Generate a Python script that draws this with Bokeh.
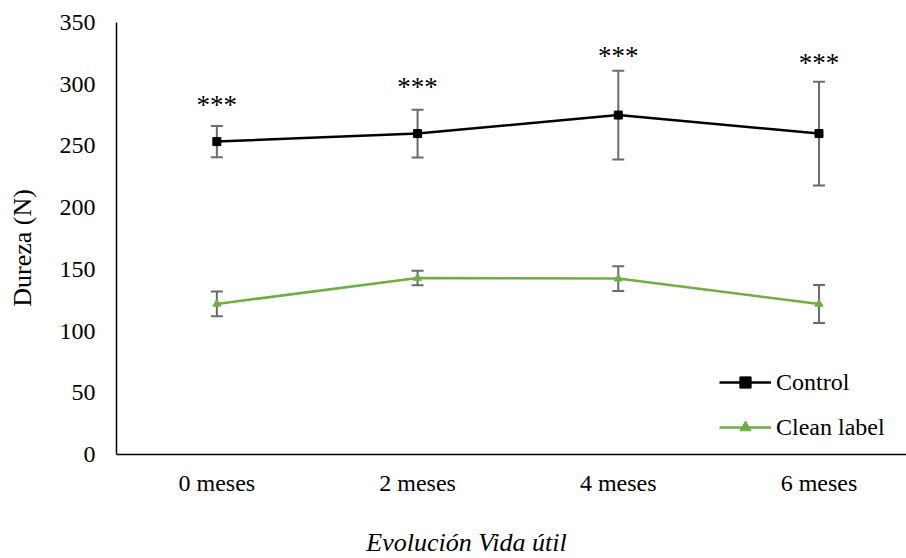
import math
from bokeh.plotting import figure
from bokeh.layouts import column, row
from bokeh.models import (ColumnDataSource, Whisker, TeeHead, FixedTicker, Range1d,
                          Legend, LegendItem)
from bokeh.core.properties import value
from bokeh.embed import file_html
from bokeh.resources import INLINE

categories = ["0 meses", "2 meses", "4 meses", "6 meses"]
control = [253.5, 260.0, 275.0, 260.0]
control_sd = [12.7, 19.4, 36.0, 42.0]
clean = [122.0, 143.0, 142.5, 122.0]
clean_sd = [10.0, 5.8, 10.1, 15.4]
sig_labels = ["***", "***", "***", "***"]
sig_y = [283.5, 298, 323, 317.5]
y_ticks = [0, 50, 100, 150, 200, 250, 300, 350]
x_title = "Evolución Vida útil"
y_title = "Dureza (N)"

FONT = "Liberation Serif"
x = list(range(len(categories)))

MAIN_H = 502
YW = 45

p = figure(width=906 - YW, height=MAIN_H, x_range=Range1d(-0.5, 3.436), y_range=Range1d(0, 350),
           output_backend="svg", toolbar_location=None,
           min_border_left=116 - YW, min_border_right=0, min_border_top=22,
           min_border_bottom=MAIN_H - 454)

def whisk(vals, sds):
    src = ColumnDataSource(dict(x=x, upper=[v + s for v, s in zip(vals, sds)],
                                lower=[v - s for v, s in zip(vals, sds)]))
    col = "#6b6b6b"
    w = Whisker(base="x", upper="upper", lower="lower", source=src, level="underlay",
                line_color=col, line_width=2,
                upper_head=TeeHead(size=12, line_color=col, line_width=2),
                lower_head=TeeHead(size=12, line_color=col, line_width=2))
    p.add_layout(w)

whisk(control, control_sd)
whisk(clean, clean_sd)

GREEN = "#70AD47"
l1 = p.line(x, control, line_color="black", line_width=2.5)
s1 = p.scatter(x, control, marker="square", size=8, fill_color="black", line_color="black")
l2 = p.line(x, clean, line_color=GREEN, line_width=2.5)
s2 = p.scatter(x, clean, marker="triangle", size=8, fill_color=GREEN, line_color=GREEN)

p.text(x=x, y=sig_y, text=sig_labels, text_align="center", text_baseline="middle",
       text_font=value(FONT), text_font_size="27px", text_color="black")

legend = Legend(items=[LegendItem(label="Control", renderers=[l1, s1]),
                       LegendItem(label="Clean label", renderers=[l2, s2])],
                location=(603, 13), glyph_width=52, glyph_height=28, label_height=28,
                spacing=17, padding=0, margin=0, border_line_color=None,
                background_fill_alpha=0, label_text_font=FONT, label_text_font_size="24px",
                label_standoff=5, label_text_color="black")
p.add_layout(legend)

p.xaxis.ticker = FixedTicker(ticks=x)
p.xaxis.major_label_overrides = {i: c for i, c in enumerate(categories)}
p.yaxis.ticker = FixedTicker(ticks=y_ticks)

for ax in (p.xaxis, p.yaxis):
    ax.axis_line_color = "black"
    ax.axis_line_width = 1.5
    ax.major_tick_line_color = None
    ax.minor_tick_line_color = None
    ax.major_tick_out = 0
    ax.major_tick_in = 0
    ax.major_label_text_font = FONT
    ax.major_label_text_font_size = "24px"
    ax.major_label_text_color = "black"

p.yaxis.major_label_standoff = 21
p.xaxis.major_label_standoff = 15
p.xgrid.visible = False
p.ygrid.visible = False
p.outline_line_color = None

# y-axis title strip
yfig = figure(width=YW, height=MAIN_H, x_range=Range1d(0, YW), y_range=Range1d(0, MAIN_H),
              output_backend="svg", toolbar_location=None, min_border=0,
              x_axis_location=None, y_axis_location=None)
yfig.text(x=[22], y=[MAIN_H - 262], text=[y_title], angle=math.pi / 2,
          text_align="center", text_baseline="middle", text_font=value(FONT),
          text_font_size="26px", text_color="black")
yfig.outline_line_color = None
yfig.grid.visible = False

# x-axis title strip
XH = 558 - MAIN_H
xfig = figure(width=906, height=XH, x_range=Range1d(0, 906), y_range=Range1d(0, XH),
              output_backend="svg", toolbar_location=None, min_border=0,
              x_axis_location=None, y_axis_location=None)
xfig.text(x=[466], y=[16], text=[x_title], text_align="center",
          text_baseline="middle", text_font=value(FONT), text_font_size="26px",
          text_font_style="italic", text_color="black")
xfig.outline_line_color = None
xfig.grid.visible = False

layout = column(row(yfig, p), xfig)
open("out.html", "w").write(file_html(layout, INLINE))
